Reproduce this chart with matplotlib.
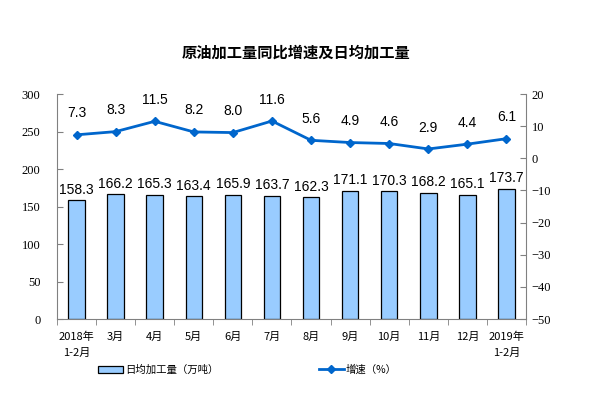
import numpy as np
import matplotlib
matplotlib.use('Agg')
import matplotlib.pyplot as plt
from matplotlib.ticker import FixedLocator

plt.rcParams['font.family'] = ['Noto Sans CJK SC', 'DejaVu Sans']

# Données
mois = ['2018年\n1-2月', '3月', '4月', '5月', '6月', '7月', '8月', '9月',
        '10月', '11月', '12月', '2019年\n1-2月']
production = [158.3, 166.2, 165.3, 163.4, 165.9, 163.7, 162.3, 171.1,
              170.3, 168.2, 165.1, 173.7]
croissance = [7.3, 8.3, 11.5, 8.2, 8.0, 11.6, 5.6, 4.9, 4.6, 2.9, 4.4, 6.1]

bar_color = '#99CCFF'
line_color = '#0066CC'
spine_color = '#808080'

fig = plt.figure(figsize=(6.14, 3.99), dpi=100)
ax0 = fig.add_axes([0.0928, 0.2005, 0.7639, 0.5639])
ax1 = ax0.twinx()

x = np.arange(len(mois))

# Barres
bars = ax0.bar(x, production, width=0.42, color=bar_color, edgecolor='black',
               linewidth=0.9, label='日均加工量（万吨）', zorder=2)
for xi, v in zip(x, production):
    ax0.text(xi, v + 5, f'{v:.1f}', ha='center', va='bottom', fontsize=10,
             family='Liberation Sans')

ax0.set_xlim(-0.5, len(mois) - 0.5)
ax0.set_ylim(0, 300)
ax0.set_yticks(np.arange(0, 301, 50))

# Courbe
line, = ax1.plot(x, croissance, color=line_color, lw=2, marker='D', ms=4.5,
                 label='增速（%）', zorder=3)
for xi, v in zip(x, croissance):
    ax1.text(xi, v + 4.5, f'{v:.1f}', ha='center', va='bottom', fontsize=10,
             family='Liberation Sans')
ax1.set_ylim(-50, 20)
ax1.set_yticks(np.arange(-50, 21, 10))

# Axes
for ax in (ax0, ax1):
    for s in ax.spines.values():
        s.set_color(spine_color)
    ax.spines['top'].set_visible(False)
ax0.spines['right'].set_visible(False)
ax1.spines['left'].set_visible(False)
ax1.spines['bottom'].set_visible(False)

ax0.set_xticks(x)
ax0.set_xticklabels(mois, fontsize=8, linespacing=1.7)
ax0.tick_params(axis='x', length=0, pad=9)
ax0.xaxis.set_minor_locator(FixedLocator(np.arange(-0.5, len(mois), 1)))
ax0.tick_params(axis='x', which='minor', length=4, direction='out', color=spine_color)

ax0.tick_params(axis='y', direction='in', length=4, color=spine_color, labelsize=9, pad=12)
ax1.tick_params(axis='y', direction='in', length=4, color=spine_color, labelsize=9, pad=4)
for lab in ax0.get_yticklabels() + ax1.get_yticklabels():
    lab.set_family('Liberation Serif')

fig.text(0.482, 0.868, '原油加工量同比增速及日均加工量', ha='center', va='center',
         fontsize=11, fontweight='bold')

fig.legend(handles=[bars, line], loc='center left', bbox_to_anchor=(0.145, 0.073),
           ncol=2, frameon=False, fontsize=7.5, columnspacing=9.6,
           handlelength=2.4, handletextpad=0.2)

fig.savefig('out.png', dpi=100)
